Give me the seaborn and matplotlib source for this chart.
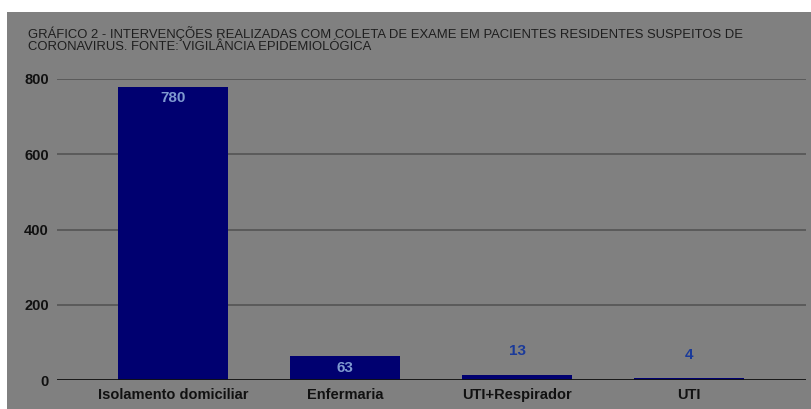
import matplotlib
matplotlib.use("Agg")
import matplotlib.pyplot as plt
import seaborn as sns
from matplotlib.patches import Rectangle

categorias = ["Isolamento domiciliar", "Enfermaria", "UTI+Respirador", "UTI"]
valores = [780, 63, 13, 4]
yticks = [0, 200, 400, 600, 800]
titulo = ("GRÁFICO 2 - INTERVENÇÕES REALIZADAS COM COLETA DE EXAME EM PACIENTES RESIDENTES SUSPEITOS DE\n"
          "CORONAVIRUS. FONTE: VIGILÂNCIA EPIDEMIOLÓGICA")

sns.set_style("white")
plt.rcParams['font.family'] = ['Liberation Sans', 'DejaVu Sans']

fundo = "#808080"
fig = plt.figure(figsize=(8.11, 4.09), dpi=100, facecolor="white")
fig.patches.append(Rectangle((7 / 811, 0), 1, (409 - 12) / 409, transform=fig.transFigure,
                             facecolor=fundo, edgecolor="none", zorder=-10))

ax = fig.add_axes([57 / 811, 29 / 409, 749 / 811, 301 / 409])
ax.set_facecolor(fundo)

sns.barplot(x=categorias, y=valores, color="#000070", width=0.64, saturation=1,
            edgecolor="#000070", linewidth=0, ax=ax, zorder=3)

ax.set_ylim(0, 800)
ax.set_xlim(-0.675, 3.68)
ax.set_yticks(yticks)
for y in yticks[1:]:
    ax.axhline(y, color="#505050", lw=1.1, zorder=1)
ax.axhline(0, color="#111111", lw=1.3, zorder=4)
for s in ax.spines.values():
    s.set_visible(False)

ax.tick_params(axis="both", length=0, labelsize=10.5, colors="#111111", pad=6)
for lbl in ax.get_xticklabels() + ax.get_yticklabels():
    lbl.set_fontweight("bold")

for i, v in enumerate(valores):
    if v > 40:
        ax.text(i, v - 12, str(v), ha="center", va="top", fontsize=11,
                color="#7f9ad0", fontweight="bold", zorder=5)
    else:
        ax.text(i, v + 45, str(v), ha="center", va="bottom", fontsize=11,
                color="#1a3a9a", fontweight="bold", zorder=5)

ax.set_xlabel("")
ax.set_ylabel("")
fig.text(28 / 811, 1 - 26 / 409, titulo, ha="left", va="top", fontsize=9.4,
         color="#1e1e1e", linespacing=1.05)

fig.savefig("out.png", dpi=100, facecolor=fig.get_facecolor())
